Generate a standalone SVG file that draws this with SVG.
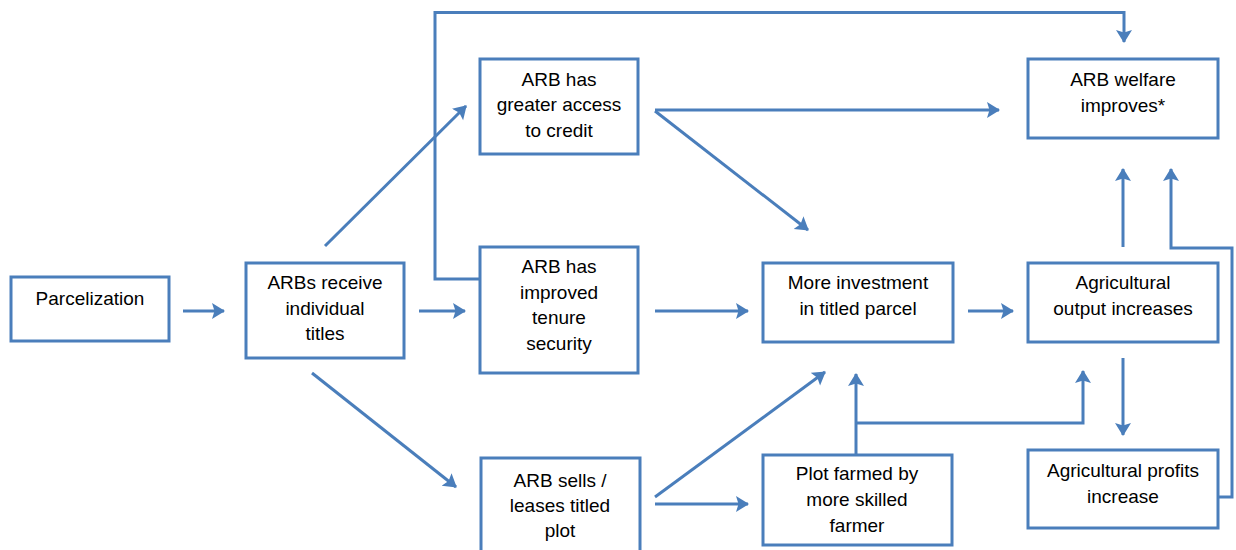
<svg xmlns="http://www.w3.org/2000/svg" width="1236" height="550" viewBox="0 0 1236 550">
<style>
.box{fill:#fff;stroke:#4a7ebb;stroke-width:3}
.c{fill:none;stroke:#4a7ebb;stroke-width:3}
text{font-family:"Liberation Sans",Arial,sans-serif;font-size:19px;fill:#000;text-anchor:middle}
</style>
<defs>
<marker id="ah" markerUnits="userSpaceOnUse" markerWidth="16" markerHeight="18" refX="12" refY="8" orient="auto">
<path d="M0,0 L13,8 L0,16 L2.5,8 Z" fill="#4a7ebb"/>
</marker>
</defs>
<rect width="1236" height="550" fill="#fff"/>
<g id="connectors">
<line class="c" x1="183" y1="311" x2="224" y2="311" marker-end="url(#ah)"/>
<line class="c" x1="419" y1="311" x2="465" y2="311" marker-end="url(#ah)"/>
<line class="c" x1="325" y1="246" x2="466" y2="106" marker-end="url(#ah)"/>
<line class="c" x1="312" y1="373" x2="456" y2="487" marker-end="url(#ah)"/>
<polyline class="c" points="480,279 435,279 435,12.5 1124,12.5 1124,42" marker-end="url(#ah)"/>
<line class="c" x1="655" y1="110" x2="999" y2="110" marker-end="url(#ah)"/>
<line class="c" x1="655" y1="111" x2="808" y2="230" marker-end="url(#ah)"/>
<line class="c" x1="655" y1="311" x2="748" y2="311" marker-end="url(#ah)"/>
<line class="c" x1="968" y1="311" x2="1013" y2="311" marker-end="url(#ah)"/>
<line class="c" x1="655" y1="497" x2="825" y2="372" marker-end="url(#ah)"/>
<line class="c" x1="655" y1="504" x2="748" y2="504" marker-end="url(#ah)"/>
<line class="c" x1="856" y1="455" x2="856" y2="374" marker-end="url(#ah)"/>
<polyline class="c" points="856,423 1083,423 1083,371" marker-end="url(#ah)"/>
<line class="c" x1="1123" y1="358" x2="1123" y2="435" marker-end="url(#ah)"/>
<line class="c" x1="1123" y1="247" x2="1123" y2="169" marker-end="url(#ah)"/>
<polyline class="c" points="1218,497 1232,497 1232,248 1171,248 1171,169" marker-end="url(#ah)"/>
</g>
<g id="parcelization"><rect class="box" x="11" y="277" width="158" height="64"/><text x="90" y="305">Parcelization</text></g>
<g id="arbs-receive"><rect class="box" x="246" y="263" width="158" height="95"/><text x="325" y="289">ARBs receive</text><text x="325" y="315">individual</text><text x="325" y="340">titles</text></g>
<g id="credit"><rect class="box" x="480" y="59" width="158" height="95"/><text x="559" y="86">ARB has</text><text x="559" y="111">greater access</text><text x="559" y="137">to credit</text></g>
<g id="tenure"><rect class="box" x="480" y="247" width="158" height="126"/><text x="559" y="273">ARB has</text><text x="559" y="299">improved</text><text x="559" y="324">tenure</text><text x="559" y="350">security</text></g>
<g id="sells"><rect class="box" x="481" y="458" width="159" height="110"/><text x="560" y="487">ARB sells /</text><text x="560" y="512">leases titled</text><text x="560" y="537">plot</text></g>
<g id="investment"><rect class="box" x="763" y="263" width="190" height="79"/><text x="858" y="289">More investment</text><text x="858" y="315">in titled parcel</text></g>
<g id="plot-farmed"><rect class="box" x="763" y="455" width="189" height="90"/><text x="857" y="480">Plot farmed by</text><text x="857" y="506">more skilled</text><text x="857" y="532">farmer</text></g>
<g id="welfare"><rect class="box" x="1028" y="59" width="190" height="79"/><text x="1123" y="86">ARB welfare</text><text x="1123" y="112">improves*</text></g>
<g id="output"><rect class="box" x="1028" y="263" width="190" height="79"/><text x="1123" y="289">Agricultural</text><text x="1123" y="315">output increases</text></g>
<g id="profits"><rect class="box" x="1028" y="450" width="190" height="78"/><text x="1123" y="477">Agricultural profits</text><text x="1123" y="503">increase</text></g>
</svg>
